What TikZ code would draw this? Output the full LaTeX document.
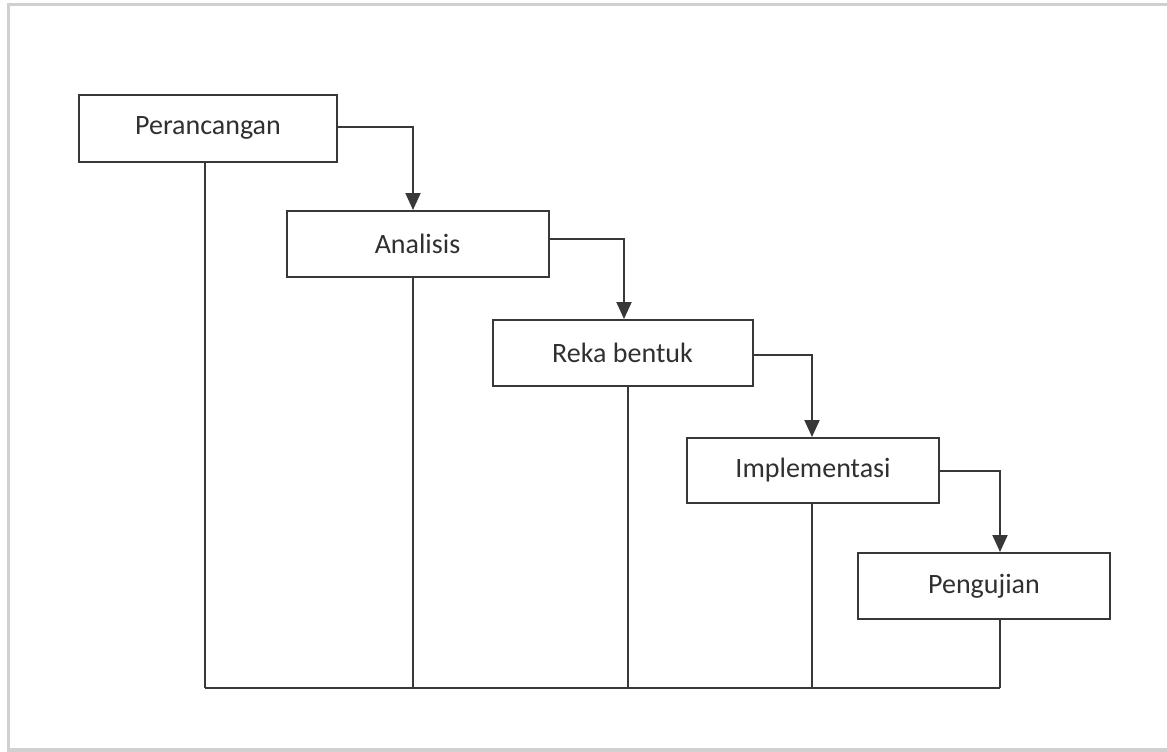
\documentclass[tikz,border=0pt]{standalone}
\usepackage{fontspec}
\setmainfont{Carlito}
\usetikzlibrary{arrows.meta}
\definecolor{ln}{HTML}{383838}
\definecolor{tx}{HTML}{303030}
\definecolor{fr}{HTML}{D0D0D0}
\tikzset{
  stage/.style={draw=ln, line width=2pt, fill=white, rectangle, inner sep=0pt,
    font=\fontsize{28}{32}\selectfont, text=tx},
  flow/.style={draw=ln, line width=2pt, -{Triangle[width=15pt,length=17pt]}},
  tie/.style={draw=ln, line width=1.6pt},
}
\begin{document}
\begin{tikzpicture}[x=1pt,y=-1pt]
\useasboundingbox (0,0) rectangle (1167,752);
\fill[white] (0,0) rectangle (1167,752);
\draw[fr, line width=3.5pt] (1167,4.5) -- (8.5,4.5) -- (8.5,750) -- (1167,750);
% stages
\node[stage, minimum width=258pt, minimum height=67pt] (p) at (208,128) {Perancangan};
\node[stage, minimum width=262pt, minimum height=66pt] (a) at (417.5,244) {Analisis};
\node[stage, minimum width=260pt, minimum height=66pt] (r) at (622.5,353) {Reka bentuk};
\node[stage, minimum width=252pt, minimum height=65pt] (i) at (813,470.5) {Implementasi};
\node[stage, minimum width=252pt, minimum height=66pt] (g) at (984,586) {Pengujian};
% flow arrows
\draw[flow] (p.east |- 0,127) -| (a.north -| 413,0);
\draw[flow] (a.east |- 0,239) -| (r.north -| 624,0);
\draw[flow] (r.east |- 0,355) -| (i.north -| 812,0);
\draw[flow] (i.east |- 0,471) -| (g.north -| 1000,0);
% return lines
\coordinate (b1) at (205,688);
\coordinate (b2) at (413,688);
\coordinate (b3) at (628,688);
\coordinate (b4) at (812,688);
\coordinate (b5) at (1000,688);
\draw[tie] (p.south -| b1) -- (b1);
\draw[tie] (a.south -| b2) -- (b2);
\draw[tie] (r.south -| b3) -- (b3);
\draw[tie] (i.south -| b4) -- (b4);
\draw[tie] (g.south -| b5) -- (b5);
\draw[tie] (b1) -- (b5);
\end{tikzpicture}
\end{document}
